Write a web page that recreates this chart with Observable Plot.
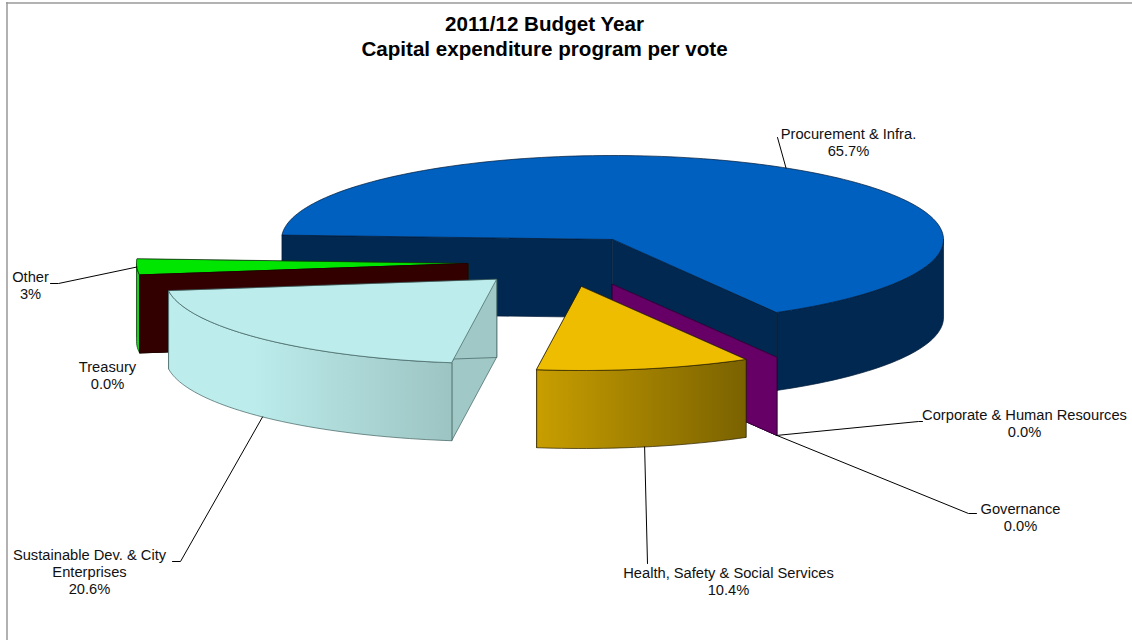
<!DOCTYPE html>
<html>
<head>
<meta charset="utf-8">
<style>
  html, body { margin: 0; padding: 0; background: #fff; }
  svg { display: block; }
</style>
<script src="https://cdn.jsdelivr.net/npm/d3@7"></script>
<script src="https://cdn.jsdelivr.net/npm/@observablehq/plot@0.6"></script>
</head>
<body>
<div id="chart"></div>
<script>
// Capital expenditure per vote, 2011/12
const votes = ["Procurement & Infra.", "Corporate & Human Resources", "Governance",
  "Health, Safety & Social Services", "Sustainable Dev. & City\nEnterprises", "Treasury", "Other"];
const shares = [65.7, 0, 0, 10.4, 20.6, 0, 3];
const shareLabels = ["65.7%", "0.0%", "0.0%", "10.4%", "20.6%", "0.0%", "3%"];

// Drawing style of each slice, in the order of votes
const topColors = ["#0060bf", "#660066", "#660066", "#eebd00", "#bcecec", "#330000", "#00e600"];
const wallColors = ["#002850", "#660066", "#660066", "#7a6000", "#a0c8c6", "#330000", "#330000"];
const rimFills = ["#002850", "#660066", "#660066", "url(#rimHealth)", "url(#rimSustainable)", "#330000", "#22cc22"];
const edgeColors = ["#001a38", "#33003a", "#33003a", "#2a2000", "#40605e", "#220000", "#0a3a0a"];

// Pie projection: ellipse radii, thickness, and the displaced centre of each slice
const radiusX = 331, radiusY = 84, thickness = 78;
const centres = [[612, 239], [612, 284], [612, 284], [581, 286], [496, 279], [467, 263], [467, 263]];
const paintOrder = [0, 1, 2, 6, 5, 3, 4];

// Label anchors and the leader-line bends that reach them
const labelAt = [[848, 126], [1024, 407], [1020, 501], [728, 565], [89, 547], [107, 359], [30, 269]];
const leaderBends = [
  [[777, 137]],
  [[918, 421], [922, 421]],
  [[968, 513], [976, 513]],
  [[647, 563]],
  [[180, 561], [172, 561]],
  [],
  [[58, 283], [50, 283]]
];
// Leaders leave from the top edge of the slice or from the foot of its wall
const leaderFromTop = [true, false, false, false, false, false, true];

const rad = (deg) => (deg * Math.PI) / 180;
const arcs = d3.pie().sort(null).startAngle(rad(273)).endAngle(rad(273) + 2 * Math.PI)(shares);

// Compass angle (0 = up, clockwise) to a point on the slice's rim
function rimPoint(i, angle, drop = 0) {
  const [cx, cy] = centres[i];
  return {x: cx + radiusX * Math.sin(angle), y: cy - radiusY * Math.cos(angle) + drop};
}
function arcPoints(i, from, to, drop = 0) {
  const n = Math.max(1, Math.ceil(Math.abs(to - from) / rad(1.5)));
  return d3.range(n + 1).map((k) => rimPoint(i, from + ((to - from) * k) / n, drop));
}
function wall(i, angle) {
  const [cx, cy] = centres[i];
  const edge = rimPoint(i, angle);
  return [{x: cx, y: cy}, edge, {x: edge.x, y: edge.y + thickness}, {x: cx, y: cy + thickness}];
}
function topFace(i) {
  const [cx, cy] = centres[i];
  return [{x: cx, y: cy}, ...arcPoints(i, arcs[i].startAngle, arcs[i].endAngle)];
}
// The front of the rim only: the part of the arc that faces the viewer
function rimFace(i) {
  const turn = 2 * Math.PI;
  const segments = [];
  for (const base of [0, turn]) {
    const a = Math.max(arcs[i].startAngle, rad(90) + base);
    const b = Math.min(arcs[i].endAngle, rad(270) + base);
    if (b > a) segments.push([a, b]);
  }
  return segments.map(([a, b]) => [...arcPoints(i, a, b), ...arcPoints(i, b, a, thickness)]);
}
function face(points, fill, stroke) {
  return Plot.line(points, {x: "x", y: "y", fill, stroke, strokeWidth: 0.7, curve: "linear-closed"});
}

const sliceMarks = paintOrder.flatMap((i) => [
  face(wall(i, arcs[i].startAngle), wallColors[i], edgeColors[i]),
  face(wall(i, arcs[i].endAngle), wallColors[i], edgeColors[i]),
  ...rimFace(i).map((pts) => face(pts, rimFills[i], edgeColors[i])),
  ...(shares[i] > 0 ? [face(topFace(i), topColors[i], edgeColors[i])] : [])
]);

// Leader lines run from the middle of each slice's rim out to its label
const leaders = votes.flatMap((vote, i) => {
  if (!leaderBends[i].length) return [];
  const mid = (arcs[i].startAngle + arcs[i].endAngle) / 2;
  const start = rimPoint(i, mid, leaderFromTop[i] ? 0 : thickness);
  return [start, ...leaderBends[i].map(([x, y]) => ({x, y}))].map((p) => ({...p, vote}));
});

const labels = votes.map((vote, i) => ({
  x: labelAt[i][0], y: labelAt[i][1], text: `${vote}\n${shareLabels[i]}`
}));

// Horizontal shading of the curved rims
function gradients() {
  const defs = d3.create("svg:defs");
  const add = (id, stops) => {
    const g = defs.append("linearGradient").attr("id", id).attr("x1", 0).attr("x2", 1).attr("y1", 0).attr("y2", 0);
    stops.forEach(([offset, color]) => g.append("stop").attr("offset", offset).attr("stop-color", color));
  };
  add("rimHealth", [[0, "#c89e00"], [1, "#7a6200"]]);
  add("rimSustainable", [[0, "#bcecec"], [0.3, "#bcecec"], [1, "#9cc4c2"]]);
  return defs.node();
}

const chart = Plot.plot({
  width: 1132,
  height: 640,
  margin: 0,
  x: {domain: [0, 1132], axis: null},
  y: {domain: [640, 0], axis: null},
  style: {fontFamily: "'Liberation Sans', Arial, sans-serif", background: "#fff"},
  marks: [
    gradients,
    Plot.ruleX([6.5], {y1: 2, y2: 640, stroke: "#999", strokeWidth: 1.5}),
    Plot.ruleY([2.5], {x1: 6, x2: 1132, stroke: "#999", strokeWidth: 1.5}),
    ...sliceMarks,
    Plot.line(leaders, {x: "x", y: "y", z: "vote", stroke: "#000", strokeWidth: 1}),
    Plot.text(labels, {x: "x", y: "y", text: "text", fontSize: 14.7, fill: "#111", lineHeight: 1.16, lineAnchor: "top", textAnchor: "middle"}),
    Plot.text(["2011/12 Budget Year\nCapital expenditure program per vote"], {
      x: () => 544, y: () => 13, lineAnchor: "top",
      fontSize: 20.6, fontWeight: "bold", fill: "#000", lineHeight: 1.21, textAnchor: "middle"
    })
  ]
});
document.getElementById("chart").append(chart);
</script>
</body>
</html>
